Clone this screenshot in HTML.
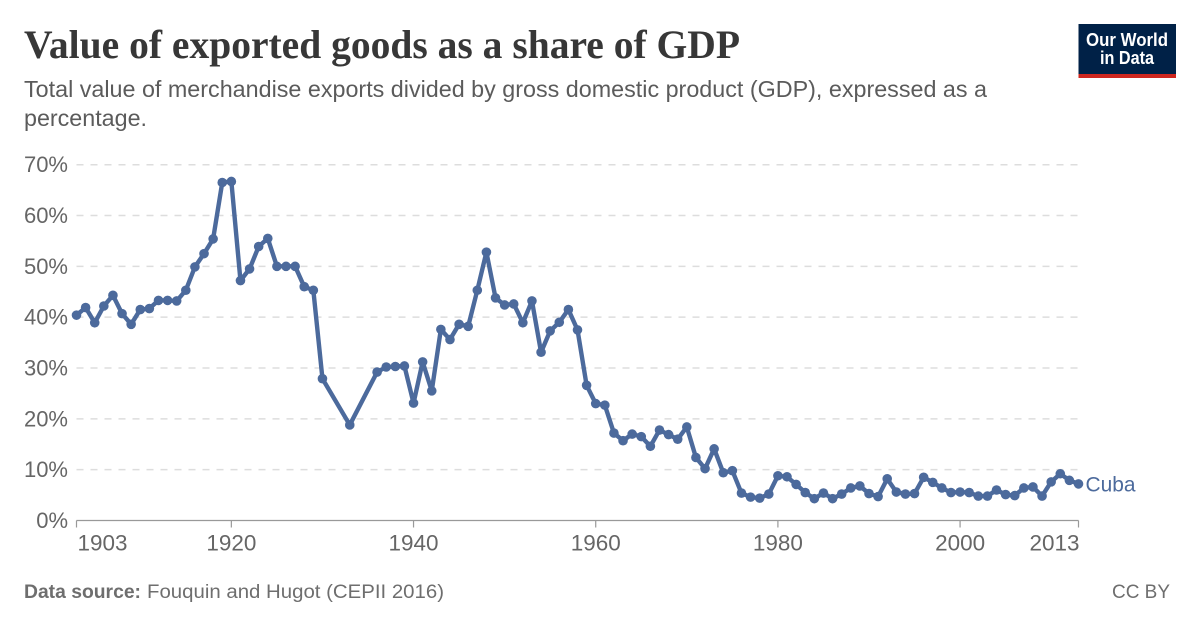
<!DOCTYPE html>
<html lang="en">
<head>
<meta charset="utf-8">
<title>Value of exported goods as a share of GDP</title>
<style>
  html, body { margin: 0; padding: 0; background: #fff; width: 1200px; height: 627px; overflow: hidden; }
  svg { display: block; font-family: "Liberation Sans", sans-serif; }
</style>
</head>
<body>
<svg id="chart" xmlns="http://www.w3.org/2000/svg" width="1200" height="627" viewBox="0 0 1200 627">
  <rect width="1200" height="627" fill="#fff"/>
  <text x="24" y="58" font-family="'Liberation Serif', serif" font-weight="700" font-size="40" fill="#373737" textLength="716" lengthAdjust="spacingAndGlyphs">Value of exported goods as a share of GDP</text>
  <text x="24" y="97" font-size="23" fill="#5b5b5b" textLength="963" lengthAdjust="spacingAndGlyphs">Total value of merchandise exports divided by gross domestic product (GDP), expressed as a</text>
  <text x="24" y="126" font-size="23" fill="#5b5b5b" textLength="123" lengthAdjust="spacingAndGlyphs">percentage.</text>

  <g>
    <rect x="1078.5" y="24" width="97.5" height="50" fill="#002147"/>
    <rect x="1078.5" y="74" width="97.5" height="4" fill="#ce261e"/>
    <text x="1127" y="46" text-anchor="middle" font-size="18" font-weight="700" fill="#fff" textLength="82" lengthAdjust="spacingAndGlyphs">Our World</text>
    <text x="1127" y="64" text-anchor="middle" font-size="18" font-weight="700" fill="#fff" textLength="54" lengthAdjust="spacingAndGlyphs">in Data</text>
  </g>

  <g id="grid-group"></g>
  <g id="y-labels-group"></g>
  <g id="x-axis-group"></g>
  <g id="series-group"></g>

  <text x="24" y="598" font-size="19" font-weight="700" fill="#6e6e6e" textLength="117" lengthAdjust="spacingAndGlyphs">Data source:</text>
  <text x="147" y="598" font-size="19" fill="#6e6e6e" textLength="297" lengthAdjust="spacingAndGlyphs">Fouquin and Hugot (CEPII 2016)</text>
  <text x="1170" y="598" text-anchor="end" font-size="19" fill="#6e6e6e" textLength="58" lengthAdjust="spacingAndGlyphs">CC BY</text>
</svg>
<script>
const years = [1903,1904,1905,1906,1907,1908,1909,1910,1911,1912,1913,1914,1915,1916,1917,1918,1919,1920,1921,1922,1923,1924,1925,1926,1927,1928,1929,1930,1933,1936,1937,1938,1939,1940,1941,1942,1943,1944,1945,1946,1947,1948,1949,1950,1951,1952,1953,1954,1955,1956,1957,1958,1959,1960,1961,1962,1963,1964,1965,1966,1967,1968,1969,1970,1971,1972,1973,1974,1975,1976,1977,1978,1979,1980,1981,1982,1983,1984,1985,1986,1987,1988,1989,1990,1991,1992,1993,1994,1995,1996,1997,1998,1999,2000,2001,2002,2003,2004,2005,2006,2007,2008,2009,2010,2011,2012,2013];
const cubaValues = [40.4,41.9,38.9,42.2,44.3,40.7,38.6,41.5,41.7,43.3,43.3,43.2,45.3,49.9,52.5,55.4,66.5,66.7,47.2,49.5,53.9,55.5,50,50,50,46,45.3,27.9,18.8,29.2,30.2,30.3,30.4,23.1,31.2,25.5,37.6,35.6,38.6,38.2,45.3,52.8,43.8,42.4,42.6,38.9,43.2,33.1,37.3,39,41.5,37.5,26.6,23,22.7,17.2,15.7,17,16.5,14.6,17.8,16.9,16,18.4,12.4,10.2,14.1,9.4,9.8,5.4,4.6,4.4,5.2,8.8,8.6,7.1,5.5,4.3,5.4,4.3,5.2,6.4,6.8,5.3,4.7,8.2,5.6,5.2,5.3,8.5,7.5,6.4,5.5,5.6,5.5,4.8,4.8,6,5.1,4.9,6.4,6.6,4.8,7.6,9.2,7.9,7.2];
const yTicks = [0,10,20,30,40,50,60,70];
const xTicks = [1903,1920,1940,1960,1980,2000,2013];
const seriesName = 'Cuba';

const NS = 'http://www.w3.org/2000/svg';
const xMin = 1903, xMax = 2013, yMax = 70;
const plotLeft = 76.5, plotRight = 1078.5, plotBottom = 520.5, plotTop = 164.7;
const COLOR = '#4c6a9c';
function xScale(v) { return plotLeft + (v - xMin) / (xMax - xMin) * (plotRight - plotLeft); }
function yScale(v) { return plotBottom - v / yMax * (plotBottom - plotTop); }
function make(tag, attrs, parent, text) {
  const el = document.createElementNS(NS, tag);
  for (const k in attrs) el.setAttribute(k, attrs[k]);
  if (text !== undefined) el.textContent = text;
  parent.appendChild(el);
  return el;
}

const gridGroup = document.getElementById('grid-group');
const yLabelsGroup = document.getElementById('y-labels-group');
yTicks.forEach(function (t) {
  if (t > 0) {
    const gl = make('line', {x1: plotLeft, x2: plotRight, y1: yScale(t), y2: yScale(t), stroke: '#dddddd', 'stroke-width': 1.5, 'stroke-dasharray': '7,7'}, gridGroup);
    
    
  }
  const lab = make('text', {x: 68, y: yScale(t) + 7.5, 'text-anchor': 'end', 'font-size': 22, fill: '#666666'}, yLabelsGroup, t + '%');
  
  
});

const xAxisGroup = document.getElementById('x-axis-group');
const axisLine = make('line', {x1: plotLeft, x2: plotRight, y1: plotBottom, y2: plotBottom, stroke: '#999999', 'stroke-width': 1.2}, xAxisGroup);


xTicks.forEach(function (t, i) {
  const tk = make('line', {x1: xScale(t), x2: xScale(t), y1: plotBottom, y2: plotBottom + 7, stroke: '#999999', 'stroke-width': 1.2}, xAxisGroup);
  
  
  const first = i === 0, last = i === xTicks.length - 1;
  const lab = make('text', {
    x: first ? xScale(t) + 1 : last ? xScale(t) + 1 : xScale(t),
    y: 550.5,
    'text-anchor': first ? 'start' : last ? 'end' : 'middle',
    'font-size': 22,
    fill: '#666666',
    textLength: 50,
    lengthAdjust: 'spacingAndGlyphs'
  }, xAxisGroup, String(t));
  
  
});

const seriesGroup = document.getElementById('series-group');
const pts = years.map(function (y, i) { return xScale(y).toFixed(2) + ',' + yScale(cubaValues[i]).toFixed(2); }).join(' ');
const cubaLine = make('polyline', {points: pts, fill: 'none', stroke: COLOR, 'stroke-width': 4.4, 'stroke-linejoin': 'round', 'stroke-linecap': 'round'}, seriesGroup);


years.forEach(function (y, i) {
  const c = make('circle', {cx: xScale(y), cy: yScale(cubaValues[i]), r: 4.8, fill: COLOR}, seriesGroup);
  
  
});
const lastIndex = years.length - 1;
const endLabel = make('text', {x: xScale(years[lastIndex]) + 7, y: yScale(cubaValues[lastIndex]) + 7.5, 'font-size': 21, fill: COLOR, textLength: 50, lengthAdjust: 'spacingAndGlyphs'}, seriesGroup, seriesName);


</script>
</body>
</html>
